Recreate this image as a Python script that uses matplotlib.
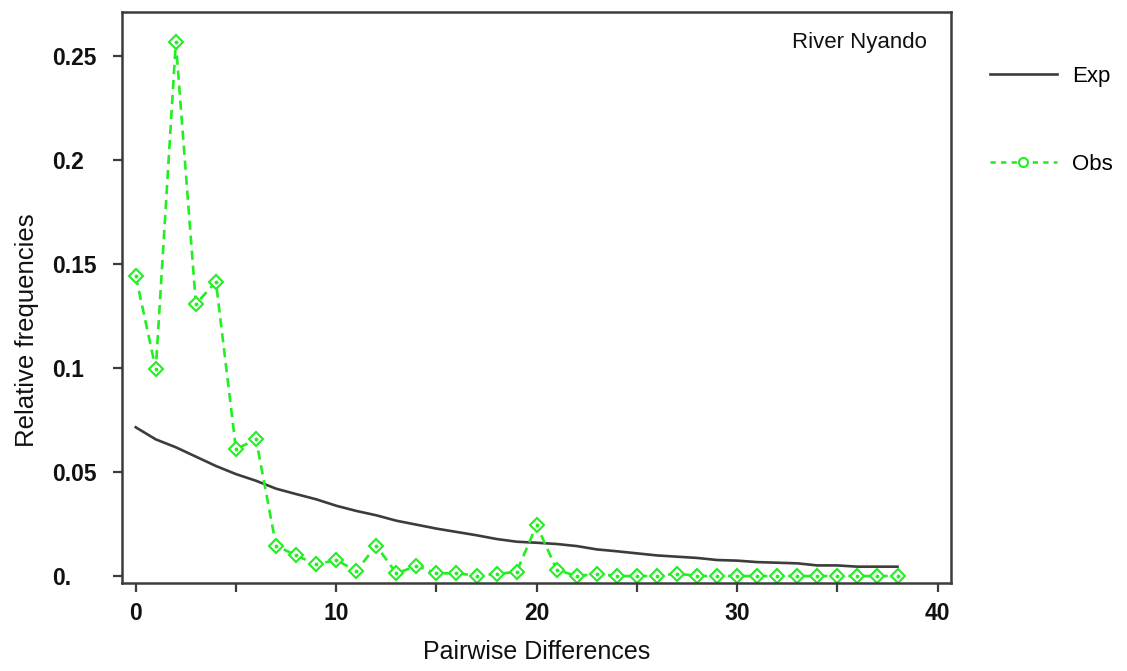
import matplotlib
matplotlib.use("Agg")
import matplotlib.pyplot as plt
from matplotlib.lines import Line2D

plt.rcParams["font.family"] = ["Liberation Sans", "DejaVu Sans"]

# pairwise differences 0..38
diffs = list(range(39))

obs = [0.1442, 0.0994, 0.2566, 0.1308, 0.1415, 0.0610, 0.0657, 0.0146,
       0.0099, 0.0056, 0.0077, 0.0024, 0.0146, 0.0013, 0.0048, 0.0013,
       0.0013, 0.0002, 0.0010, 0.0020, 0.0245, 0.0030, 0.0000, 0.0010,
       0.0000, 0.0000, 0.0000, 0.0012, 0.0000, 0.0000, 0.0000, 0.0000,
       0.0000, 0.0000, 0.0000, 0.0000, 0.0000, 0.0000, 0.0000]

exp = [0.0715, 0.0657, 0.0619, 0.0574, 0.0529, 0.0490, 0.0458, 0.0420,
       0.0394, 0.0369, 0.0338, 0.0313, 0.0292, 0.0266, 0.0247, 0.0228,
       0.0212, 0.0196, 0.0178, 0.0165, 0.0160, 0.0154, 0.0144, 0.0128,
       0.0119, 0.0109, 0.0099, 0.0093, 0.0087, 0.0077, 0.0074, 0.0067,
       0.0064, 0.0061, 0.0051, 0.0051, 0.0045, 0.0045, 0.0045]

xticks = [0, 5, 10, 15, 20, 25, 30, 35, 40]
xticklabels = ["0", "", "10", "", "20", "", "30", "", "40"]
yticks = [0, 0.05, 0.1, 0.15, 0.2, 0.25]
yticklabels = ["0.", "0.05", "0.1", "0.15", "0.2", "0.25"]

green = "#22ee22"
dark = "#3c3c3c"

fig = plt.figure(figsize=(11.27, 6.71), dpi=100)
ax = fig.add_axes([0.108, 0.131, 0.7355, 0.8515])

ax.plot(diffs, exp, color=dark, lw=1.9)
ax.plot(diffs, obs, color=green, lw=1.9, ls=(0, (3.5, 2.2)),
        marker="D", ms=7.5, mfc="white", mec=green, mew=1.5)
ax.plot(diffs, obs, ls="none", marker="o", ms=1.8, color=green)

ax.set_xlim(-0.7, 40.65)
ax.set_ylim(-0.0034, 0.2713)

ax.set_xticks(xticks)
ax.set_xticklabels(xticklabels)
ax.set_yticks(yticks)
ax.set_yticklabels(yticklabels)
ax.tick_params(direction="out", length=6.3, width=1.6, color=dark,
               labelsize=16.5)
ax.tick_params(axis="x", pad=7)
ax.tick_params(axis="y", pad=44)
for lab in ax.get_xticklabels() + ax.get_yticklabels():
    lab.set_fontweight("bold")
    lab.set_color("#111111")
for lab in ax.get_yticklabels():
    lab.set_horizontalalignment("left")

for sp in ax.spines.values():
    sp.set_linewidth(1.8)
    sp.set_color(dark)

ax.set_xlabel("Pairwise Differences", fontsize=18, color="#111111")
ax.set_ylabel("Relative frequencies", fontsize=18.5, color="#111111")
ax.xaxis.set_label_coords(0.5, -0.1)
ax.yaxis.set_label_coords(-0.1, 0.443)

ax.text(0.9714, 0.947, "River Nyando", transform=ax.transAxes,
        ha="right", va="center", fontsize=16, color="#111111")

handles = [
    Line2D([], [], color=dark, lw=1.9),
    Line2D([], [], color=green, lw=1.9, ls=(0, (2, 2)), marker="o",
           ms=6.5, mfc="white", mec=green, mew=1.5),
]
ax.legend(handles, ["Exp", "Obs"], loc="upper left",
          bbox_to_anchor=(1.0474, 0.905), frameon=False, fontsize=16,
          handlelength=3.0, handletextpad=0.68, labelspacing=3.0,
          borderpad=0, borderaxespad=0)

fig.savefig("out.png", dpi=100)
